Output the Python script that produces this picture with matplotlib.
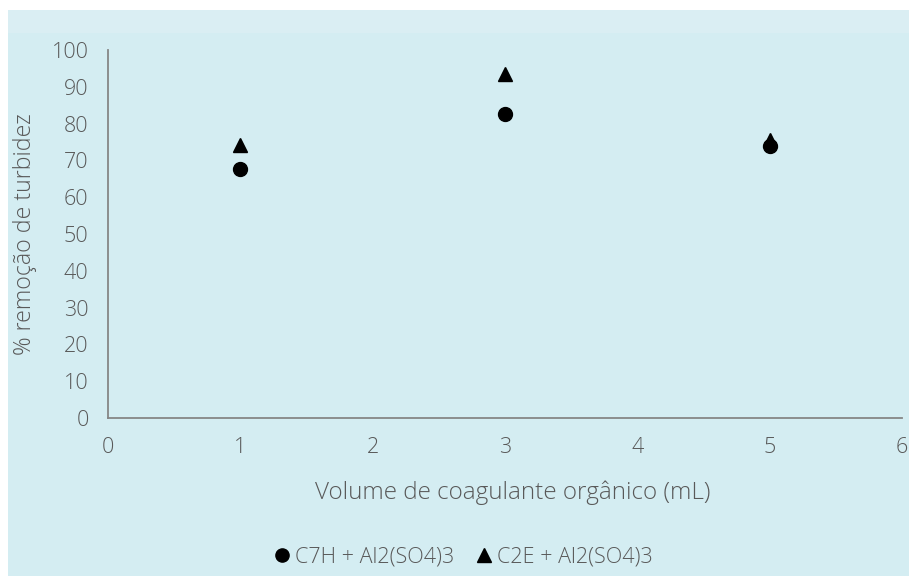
import matplotlib
matplotlib.use('Agg')
import matplotlib.pyplot as plt
from matplotlib.patches import Rectangle

volumes = [1, 3, 5]
c7h = [67.7, 82.5, 73.8]   # C7H + Al2(SO4)3
c2e = [74.3, 93.4, 75.6]   # C2E + Al2(SO4)3

bg = '#d4edf2'
axis_col = '#868686'
text_col = '#595959'

plt.rcParams['font.family'] = ['Open Sans', 'DejaVu Sans']
plt.rcParams['font.weight'] = 'light'
plt.rcParams['axes.labelweight'] = 'light'

fig = plt.figure(figsize=(9.09, 5.76), dpi=100)
fig.patch.set_facecolor('white')
# chart area (white margin on top/left like the original)
fig.patches.append(Rectangle((8 / 909, 0), 1 - 8 / 909, 1 - 10 / 576,
                             transform=fig.transFigure, facecolor=bg,
                             edgecolor='none', zorder=-10))
fig.patches.append(Rectangle((8 / 909, 1 - 33 / 576), 1 - 8 / 909, 23 / 576,
                             transform=fig.transFigure, facecolor='#daeef3',
                             edgecolor='none', zorder=-9))

ax = fig.add_axes([108 / 909, 1 - 418 / 576, (902 - 108) / 909, (418 - 50) / 576])
ax.set_facecolor('none')

ax.plot(volumes, c7h, 'o', color='black', markersize=10, label='C7H + Al2(SO4)3')
ax.plot(volumes, c2e, '^', color='black', markersize=10, label='C2E + Al2(SO4)3')

ax.set_xlim(0, 6)
ax.set_ylim(0, 100)
ax.set_xticks(range(0, 7))
ax.set_yticks(range(0, 101, 10))

for side in ['top', 'right']:
    ax.spines[side].set_visible(False)
for side in ['left', 'bottom']:
    ax.spines[side].set_color(axis_col)
    ax.spines[side].set_linewidth(1.3)

ax.tick_params(length=0, labelsize=15.5, labelcolor=text_col)
ax.tick_params(axis='x', pad=14)
ax.tick_params(axis='y', pad=14)

ax.set_xlabel('Volume de coagulante orgânico (mL)', fontsize=17.5,
              color=text_col)
ax.set_ylabel('% remoção de turbidez', fontsize=16.7, color=text_col)
ax.xaxis.set_label_coords(0.51, -0.17)
ax.yaxis.set_label_coords(-0.089, 0.5)

fig.legend(loc='center', bbox_to_anchor=(0.507, 1 - 557 / 576), ncol=2,
           frameon=False, prop={'size': 15.5, 'weight': 'light'},
           handletextpad=0.0, columnspacing=0.8, markerscale=0.95,
           handlelength=1.2, labelcolor=text_col)

plt.savefig('out.png', dpi=100, facecolor=fig.get_facecolor())
